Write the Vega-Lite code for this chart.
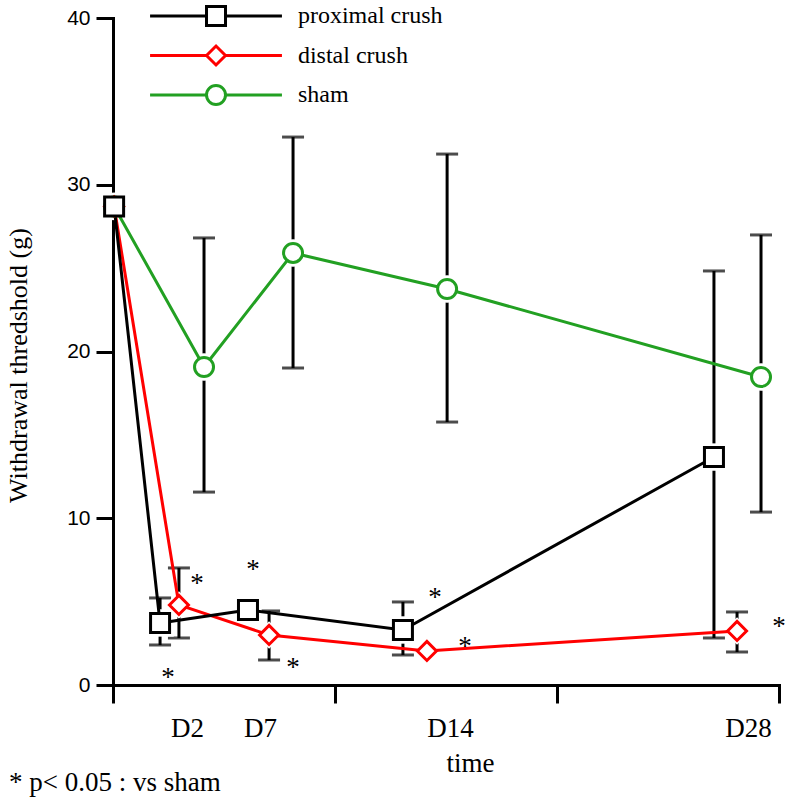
{
  "$schema": "https://vega.github.io/schema/vega-lite/v6.json",
  "width": 666,
  "height": 667,
  "autosize": {"type": "none"},
  "padding": {"left": 113, "top": 18, "right": 7, "bottom": 112},
  "background": "white",
  "config": {
    "view": {"stroke": null},
    "axis": {"grid": false, "domainColor": "black", "tickColor": "black", "labelColor": "black", "titleColor": "black", "domainWidth": 3, "tickWidth": 3, "domainCap": "square"}
  },
  "title": {
    "text": "* p< 0.05 : vs sham",
    "orient": "bottom",
    "anchor": "start",
    "frame": "group",
    "dx": -104,
    "offset": -6,
    "font": "Liberation Serif",
    "fontSize": 27,
    "fontWeight": "normal",
    "color": "black"
  },
  "datasets": {
    "pts": [
      {"series": "sham", "day": 0, "x": 0.05, "y": 28.7},
      {"series": "sham", "day": 2, "x": 4.1, "y": 19.07, "lo": 11.57, "hi": 26.81},
      {"series": "sham", "day": 7, "x": 8.11, "y": 25.91, "lo": 19.01, "hi": 32.86},
      {"series": "sham", "day": 14, "x": 15.05, "y": 23.75, "lo": 15.77, "hi": 31.84},
      {"series": "sham", "day": 28, "x": 29.19, "y": 18.47, "lo": 10.37, "hi": 26.99},
      {"series": "distal crush", "day": 0, "x": 0.05, "y": 28.7},
      {"series": "distal crush", "day": 2, "x": 2.97, "y": 4.8, "lo": 2.82, "hi": 7.02},
      {"series": "distal crush", "day": 7, "x": 7.03, "y": 3.0, "lo": 1.5, "hi": 4.44},
      {"series": "distal crush", "day": 14, "x": 14.14, "y": 2.04},
      {"series": "distal crush", "day": 28, "x": 28.11, "y": 3.24, "lo": 1.98, "hi": 4.38},
      {"series": "proximal crush", "day": 0, "x": 0.05, "y": 28.7},
      {"series": "proximal crush", "day": 2, "x": 2.12, "y": 3.72, "lo": 2.4, "hi": 5.22},
      {"series": "proximal crush", "day": 7, "x": 6.08, "y": 4.5},
      {"series": "proximal crush", "day": 14, "x": 13.06, "y": 3.3, "lo": 1.8, "hi": 4.98},
      {"series": "proximal crush", "day": 28, "x": 27.07, "y": 13.67, "lo": 2.82, "hi": 24.83}
    ],
    "stars": [
      {"x": 3.78, "y": 6.36, "t": "*"},
      {"x": 2.48, "y": 0.72, "t": "*"},
      {"x": 6.31, "y": 7.2, "t": "*"},
      {"x": 8.11, "y": 1.32, "t": "*"},
      {"x": 14.5, "y": 5.52, "t": "*"},
      {"x": 15.86, "y": 2.58, "t": "*"},
      {"x": 30.0, "y": 3.78, "t": "*"}
    ],
    "legend": [
      {"series": "proximal crush"},
      {"series": "distal crush"},
      {"series": "sham"}
    ]
  },
  "resolve": {"scale": {"y": "independent"}, "axis": {"y": "independent", "x": "independent"}},
  "layer": [
    {
      "data": {"name": "pts"},
      "encoding": {
        "x": {
          "field": "x", "type": "quantitative",
          "scale": {"domain": [0, 30], "nice": false, "zero": false},
          "axis": {
            "values": [0, 3.33, 6.62, 10, 15.18, 20, 28.6, 30],
            "labelExpr": "datum.value == 3.33 ? 'D2' : datum.value == 6.62 ? 'D7' : datum.value == 15.18 ? 'D14' : datum.value == 28.6 ? 'D28' : ''",
            "tickOpacity": {"condition": {"test": "datum.value % 10 != 0", "value": 0}, "value": 1},
            "tickSize": 18,
            "labelFont": "Liberation Serif",
            "labelFontSize": 27,
            "labelPadding": 12,
            "labelOverlap": false,
            "labelFlush": false,
            "title": "time",
            "titleFont": "Liberation Serif",
            "titleFontSize": 27,
            "titleFontWeight": "normal",
            "titleX": 357,
            "titleY": 78,
            "titleAlign": "center",
            "titleBaseline": "middle"
          }
        },
        "y": {
          "field": "y", "type": "quantitative",
          "scale": {"domain": [0, 40], "nice": false},
          "axis": {
            "values": [0, 10, 20, 30, 40],
            "tickSize": 17,
            "labelFont": "Liberation Sans",
            "labelFontSize": 21,
            "labelPadding": 6,
            "title": "Withdrawal thredshold (g)",
            "titleFont": "Liberation Serif",
            "titleFontSize": 26,
            "titleFontWeight": "normal",
            "titleX": -95,
            "titleY": 347,
            "titleAngle": 270,
            "titleAlign": "center",
            "titleBaseline": "middle"
          }
        }
      },
      "layer": [
        {
          "transform": [{"filter": "isValid(datum.hi)"}],
          "mark": {"type": "rule", "strokeWidth": 3, "color": "black"},
          "encoding": {"y": {"field": "lo", "type": "quantitative"}, "y2": {"field": "hi"}}
        },
        {
          "transform": [{"filter": "isValid(datum.hi)"}],
          "mark": {"type": "tick", "orient": "horizontal", "thickness": 3, "size": 22, "color": "black"},
          "encoding": {"y": {"field": "hi", "type": "quantitative"}}
        },
        {
          "transform": [{"filter": "isValid(datum.lo)"}],
          "mark": {"type": "tick", "orient": "horizontal", "thickness": 3, "size": 22, "color": "black"},
          "encoding": {"y": {"field": "lo", "type": "quantitative"}}
        },
        {
          "mark": {"type": "point", "filled": true, "opacity": 1, "size": 750, "strokeWidth": 0, "color": "white"},
          "encoding": {
            "shape": {"field": "series", "type": "nominal", "scale": {"domain": ["proximal crush", "distal crush", "sham"], "range": ["square", "diamond", "circle"]}, "legend": null}
          }
        },
        {
          "mark": {"type": "line", "strokeWidth": 3},
          "encoding": {
            "color": {
              "field": "series", "type": "nominal",
              "scale": {"domain": ["proximal crush", "distal crush", "sham"], "range": ["black", "#ff0000", "#22a022"]},
              "legend": null
            },
            "order": {"field": "x", "type": "quantitative"}
          }
        },
        {
          "mark": {"type": "point", "filled": false, "fill": "white", "fillOpacity": 1, "opacity": 1, "size": 361, "strokeWidth": 3},
          "encoding": {
            "shape": {"field": "series", "type": "nominal", "legend": null},
            "color": {"field": "series", "type": "nominal", "legend": null}
          }
        },
        {
          "data": {"name": "stars"},
          "mark": {"type": "text", "font": "Liberation Serif", "fontSize": 27, "baseline": "alphabetic", "dy": 13, "color": "black"},
          "encoding": {"text": {"field": "t"}}
        }
      ]
    },
    {
      "data": {"name": "legend"},
      "encoding": {
        "y": {
          "field": "series", "type": "nominal",
          "scale": {"type": "point", "domain": ["proximal crush", "distal crush", "sham"], "range": [-2, 77], "padding": 0},
          "axis": null
        }
      },
      "layer": [
        {
          "mark": {"type": "rule", "strokeWidth": 3},
          "encoding": {
            "x": {"datum": 1.67, "type": "quantitative", "axis": null},
            "x2": {"datum": 7.61},
            "color": {"field": "series", "type": "nominal", "legend": null}
          }
        },
        {
          "mark": {"type": "point", "filled": false, "fill": "white", "fillOpacity": 1, "opacity": 1, "size": 361, "strokeWidth": 3},
          "encoding": {
            "x": {"datum": 4.64, "type": "quantitative", "axis": null},
            "shape": {"field": "series", "type": "nominal", "legend": null},
            "color": {"field": "series", "type": "nominal", "legend": null}
          }
        },
        {
          "mark": {"type": "text", "font": "Liberation Serif", "fontSize": 24, "align": "left", "baseline": "middle", "color": "black"},
          "encoding": {
            "x": {"datum": 8.33, "type": "quantitative", "axis": null},
            "text": {"field": "series"}
          }
        }
      ]
    }
  ]
}
